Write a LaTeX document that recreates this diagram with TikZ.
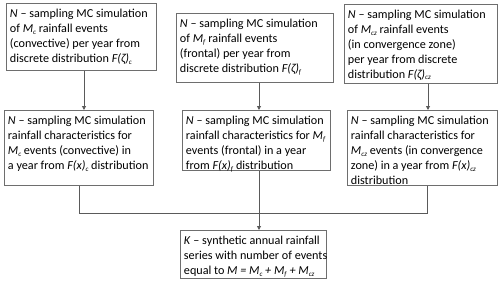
\documentclass[tikz,border=0pt]{standalone}
\usepackage{fontspec}
\setmainfont{Carlito}
\usetikzlibrary{arrows.meta}
\definecolor{edgegray}{HTML}{6E6E6E}
\definecolor{conngray}{HTML}{5A5A5A}
\newcommand\bt[3]{\vbox to #2{\hsize=#1\relax\hbox{}\vskip -1bp\relax #3\vfil}}
\newcommand\tl[1]{\hbox to \hsize{#1\hss}}
\newcommand\sbi[1]{\raisebox{-1.8bp}{\fontsize{7}{8}\selectfont\textit{#1}}}
\begin{document}
\begin{tikzpicture}[x=1bp,y=-1bp,
  box/.style={draw=edgegray, line width=0.9bp, inner xsep=3.5bp, inner ysep=0pt, anchor=north west, font=\fontsize{12.2}{15}\selectfont},
  conn/.style={draw=conngray, line width=0.9bp},
  arr/.style={conn, -{Triangle[length=4bp,width=4bp]}}]
\useasboundingbox[fill=white] (0,0) rectangle (500,283);
\node[box] (b1) at (6,3) {\bt{143bp}{67bp}{\tl{\textit{N} – sampling MC simulation}\tl{of \textit{M}\sbi{c} rainfall events}\tl{(convective) per year from}\tl{discrete distribution \textit{F(ζ)}\sbi{c}}}};
\node[box] (b2) at (176,13) {\bt{150bp}{69bp}{\tl{\textit{N} – sampling MC simulation}\tl{of \textit{M}\sbi{f} rainfall events}\tl{(frontal) per year from}\tl{discrete distribution \textit{F(ζ)}\sbi{f}}}};
\node[box] (b3) at (344,4) {\bt{146bp}{79bp}{\tl{\textit{N} – sampling MC simulation}\tl{of \textit{M}\sbi{cz} rainfall events}\tl{(in convergence zone)}\tl{per year from discrete}\tl{distribution \textit{F(ζ)}\sbi{cz}}}};
\node[box] (b4) at (4,110) {\bt{142bp}{75bp}{\tl{\textit{N} – sampling MC simulation}\tl{rainfall characteristics for}\tl{\textit{M}\sbi{c} events (convective) in}\tl{a year from \textit{F(x)}\sbi{c} distribution}}};
\node[box] (b5) at (182,110) {\bt{141bp}{60bp}{\tl{\textit{N} – sampling MC simulation}\tl{rainfall characteristics for \textit{M}\sbi{f}}\tl{events (frontal) in a year}\tl{from \textit{F(x)}\sbi{f} distribution}}};
\node[box] (b6) at (347,110) {\bt{143bp}{75bp}{\tl{\textit{N} – sampling MC simulation}\tl{rainfall characteristics for}\tl{\textit{M}\sbi{cz} events (in convergence}\tl{zone) in a year from \textit{F(x)}\sbi{cz}}\tl{distribution}}};
\node[box] (b7) at (180,230) {\bt{139bp}{48bp}{\tl{\textit{K} – synthetic annual rainfall}\tl{series with number of events}\tl{equal to \textit{M = M}\sbi{c} \textit{+ M}\sbi{f} \textit{+ M}\sbi{cz}}}};
\coordinate (c1) at (84,0);
\coordinate (c2) at (259,0);
\coordinate (c3) at (428,0);
\coordinate (l4) at (79,213);
\coordinate (r6) at (427,213);
\draw[arr] (b1.south -| c1) -- (b4.north -| c1);
\draw[arr] (b2.south -| c2) -- (b5.north -| c2);
\draw[arr] (b3.south -| c3) -- (b6.north -| c3);
\draw[conn] (b4.south -| l4) -- (l4) -- (r6) -- (b6.south -| r6);
\draw[arr] (b5.south -| c2) -- (b7.north -| c2);
\end{tikzpicture}
\end{document}
